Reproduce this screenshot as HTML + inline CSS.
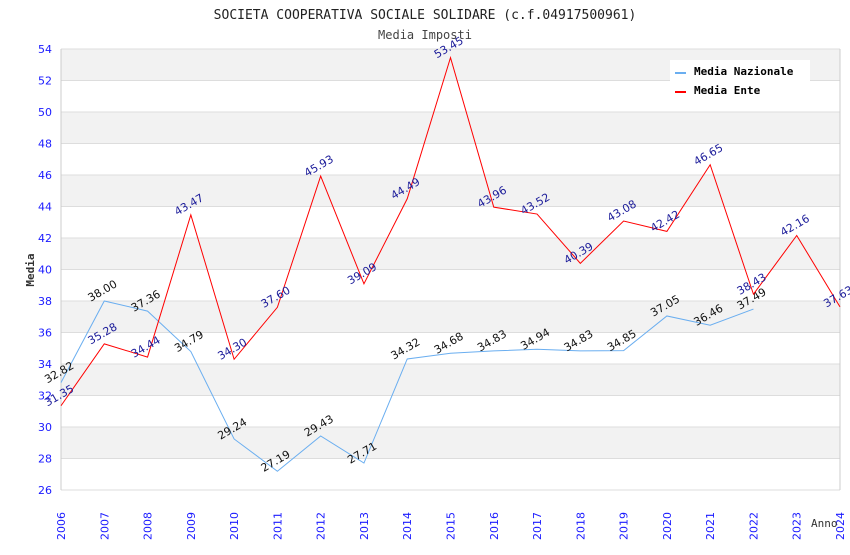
<!DOCTYPE html>
<html><head><meta charset="utf-8"><style>
body{margin:0;background:#fff}
svg text{font-family:"DejaVu Sans Mono","Liberation Mono",monospace}
svg text.s{font-family:"DejaVu Sans","Liberation Sans",sans-serif}
</style></head><body>
<svg id="c" width="850" height="550">
<text x="425" y="19" text-anchor="middle" font-size="13" fill="#222">SOCIETA COOPERATIVA SOCIALE SOLIDARE (c.f.04917500961)</text>
<text x="425" y="39" text-anchor="middle" font-size="12" fill="#444">Media Imposti</text>
<g id="bands"></g><g id="grid"></g><g id="ticks"></g><g id="series"></g>
<text transform="translate(34,270) rotate(-90)" text-anchor="middle" font-size="11" font-weight="bold" fill="#333">Media</text>
<text x="811" y="527" font-size="11" fill="#333">Anno</text>
<g>
<rect x="670" y="60" width="140" height="40" fill="#fff"/>
<g><line x1="675" y1="73" x2="686" y2="73" stroke="#6aaef0" stroke-width="2"/><text x="694" y="75" font-size="11" font-weight="bold" fill="#000">Media Nazionale</text></g>
<g><line x1="675" y1="92" x2="686" y2="92" stroke="red" stroke-width="2"/><text x="694" y="94" font-size="11" font-weight="bold" fill="#000">Media Ente</text></g>
</g>
</svg>
<script>
const years=[2006,2007,2008,2009,2010,2011,2012,2013,2014,2015,2016,2017,2018,2019,2020,2021,2022,2023,2024];
const nazionale=[32.82,38.00,37.36,34.79,29.24,27.19,29.43,27.71,34.32,34.68,34.83,34.94,34.83,34.85,37.05,36.46,37.49];
const ente=[31.35,35.28,34.44,43.47,34.30,37.60,45.93,39.09,44.49,53.45,43.96,43.52,40.39,43.08,42.42,46.65,38.43,42.16,37.63];
const yTicks=[26,28,30,32,34,36,38,40,42,44,46,48,50,52,54];
const NS="http://www.w3.org/2000/svg";
const X0=61,X1=840,Y0=490,Y1=49;
const xs=i=>X0+(X1-X0)*i/(years.length-1);
const ys=v=>Y0-(v-26)/(54-26)*(Y0-Y1);
function mk(p,t,a){const e=document.createElementNS(NS,t);for(const k in a)e.setAttribute(k,a[k]);p.appendChild(e);return e;}
const bands=document.getElementById('bands'),grid=document.getElementById('grid'),ticks=document.getElementById('ticks'),ser=document.getElementById('series');
for(let i=0;i<yTicks.length-1;i++){
 if((54-yTicks[i+1])%4===0){const r=mk(bands,'rect',{x:X0,y:ys(yTicks[i+1]),width:X1-X0,height:ys(yTicks[i])-ys(yTicks[i+1]),fill:'#f2f2f2'});
 
 }
}
yTicks.forEach(v=>{
 const l=mk(grid,'line',{x1:X0,x2:X1,y1:ys(v),y2:ys(v),stroke:'#ddd'});
 
 
 const t=mk(ticks,'text',{class:'s',x:X0-9,y:ys(v)+4,'text-anchor':'end','font-size':'11',fill:'#1a1aff'});t.textContent=v;
 
 
});
mk(grid,'line',{x1:X0,x2:X0,y1:Y1,y2:Y0,stroke:'#ccc'});
mk(grid,'line',{x1:X1,x2:X1,y1:Y1,y2:Y0,stroke:'#ccc'});
years.forEach((y,i)=>{
 const t=mk(ticks,'text',{class:'s',transform:`translate(${xs(i)+4},${Y0+50}) rotate(-90)`,'font-size':'11',fill:'#1a1aff'});t.textContent=y;
 
 
});
function series(data,color,lblColor,name){
 const p=mk(ser,'polyline',{points:data.map((v,i)=>xs(i)+','+ys(v)).join(' '),fill:'none',stroke:color,'stroke-width':1});
 
 
 data.forEach((v,i)=>{
  const t=mk(ser,'text',{class:'s',transform:`translate(${xs(i)},${ys(v)-7}) rotate(-30)`,'text-anchor':'middle','font-size':'11',fill:lblColor});t.textContent=v.toFixed(2);
  
  
 });
}
series(nazionale,'#6aaef0','#111','series-nazionale');
series(ente,'red','#1a1a99','series-ente');
</script>
</body></html>
